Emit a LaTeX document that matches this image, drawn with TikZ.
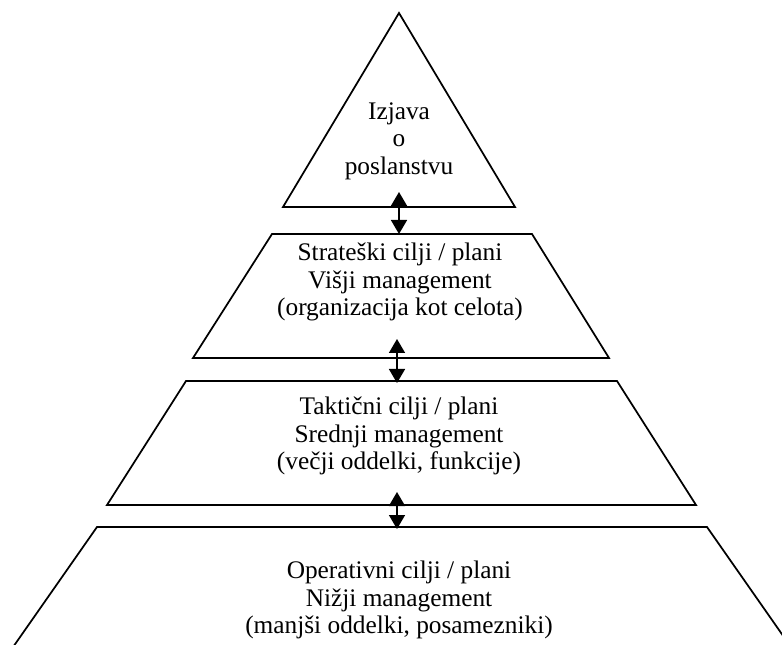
\documentclass[tikz,border=0pt]{standalone}
\usepackage{fontspec}
\setmainfont{Liberation Serif}
\usetikzlibrary{arrows.meta}
\begin{document}
\begin{tikzpicture}[x=0.75pt,y=-0.75pt,
    level/.style={draw=black,line width=1.3pt,line join=miter},
    label/.style={align=center,inner sep=0pt,
      font=\fontsize{19}{20.5}\selectfont},
    link/.style={line width=1.2pt,
      {Triangle[width=12pt,length=10.5pt]}-{Triangle[width=12pt,length=10.5pt]}}]
  \useasboundingbox (0,0) rectangle (782,645);
  \clip (0,0) rectangle (782,645);

  % pyramid levels
  \draw[level] (399,13) -- (515,207) -- (283,207) -- cycle;
  \draw[level] (272,234) -- (532,234) -- (609,358) -- (193,358) -- cycle;
  \draw[level] (186,381) -- (617,381) -- (696,505) -- (107,505) -- cycle;
  \draw[level] (97,527) -- (707,527) -- (800,660) -- (4,660) -- cycle;

  % labels
  \node[label] (mission) at (399,141) {Izjava\\o\\poslanstvu};
  \node[label] (strat) at (400,282) {Strateški cilji / plani\\Višji management\\(organizacija kot celota)};
  \node[label] (takt) at (399,436) {Taktični cilji / plani\\Srednji management\\(večji oddelki, funkcije)};
  \node[label] (oper) at (399,600) {Operativni cilji / plani\\Nižji management\\(manjši oddelki, posamezniki)};

  % connector end points
  \coordinate (a1) at (399,192);
  \coordinate (b1) at (399,234);
  \coordinate (a2) at (397,339);
  \coordinate (b2) at (397,383);
  \coordinate (a3) at (397,492);
  \coordinate (b3) at (397,529);

  \draw[link] (a1) -- (b1);
  \draw[link] (a2) -- (b2);
  \draw[link] (a3) -- (b3);
\end{tikzpicture}
\end{document}
